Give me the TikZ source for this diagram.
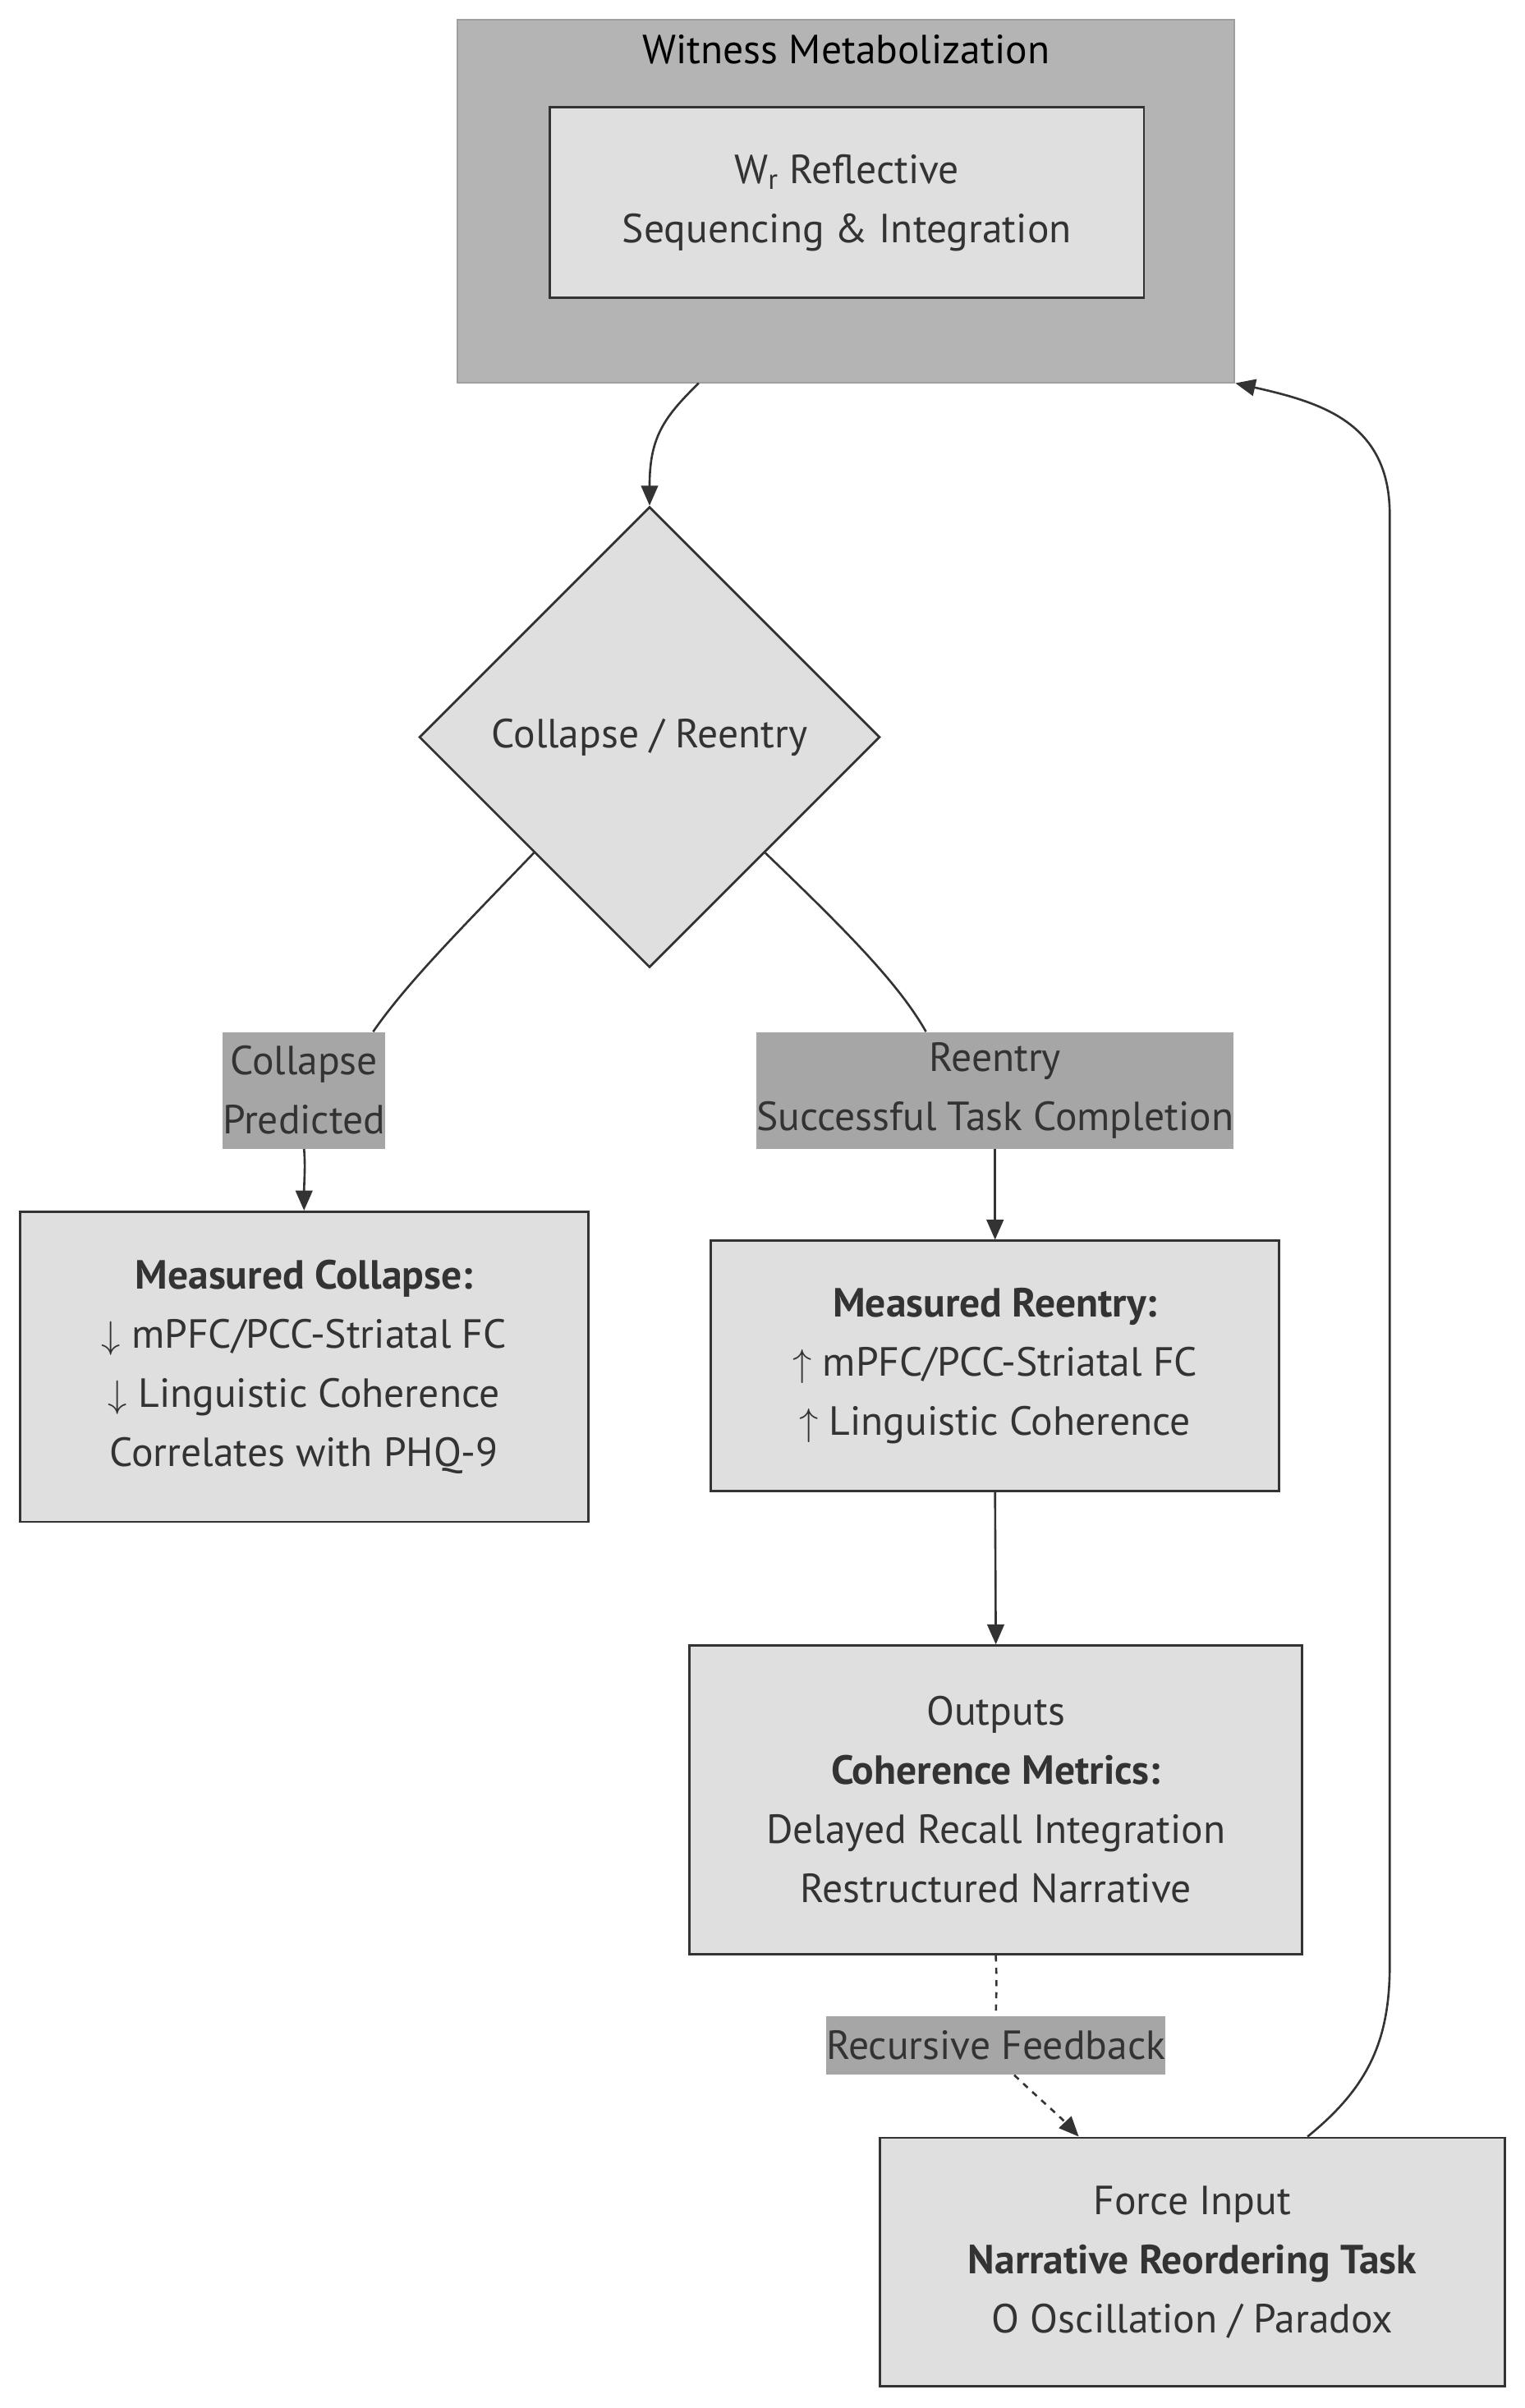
\documentclass[tikz,border=0pt]{standalone}
\usepackage{fontspec}
\setmainfont{PT Sans}
\usetikzlibrary{shapes.geometric,arrows.meta}
\definecolor{nodefill}{HTML}{DFDFDF}
\definecolor{clusterfill}{HTML}{B5B4B5}
\definecolor{labelfill}{HTML}{A6A6A6}
\definecolor{ink}{HTML}{333333}
\begin{document}
\begin{tikzpicture}[x=1pt,y=-1pt,
	    box/.style={draw=ink,line width=1.5pt,fill=nodefill,text=ink,align=center,inner sep=0pt,font=\fontsize{26.5}{38.5}\selectfont},
	    elabel/.style={fill=labelfill,text=ink,align=center,inner xsep=0pt,inner ysep=0pt,font=\fontsize{26.5}{38.5}\selectfont},
	    edge/.style={draw=ink,line width=1.4pt,-{Triangle[length=13pt,width=11pt]}},
	    link/.style={draw=ink,line width=1.4pt}]
	    \useasboundingbox (0,0) rectangle (993,1568);
	    \node[draw=gray!75,line width=1pt,fill=clusterfill,minimum width=506,minimum height=236,inner sep=0pt] (wit) at (551,131) {};
	    \node[font=\fontsize{26.5}{30}\selectfont] (witt) at (551,32) {Witness Metabolization};
	    \node[box,minimum width=387,minimum height=124] (wr) at (551.5,132) {W\textsubscript{r} Reflective\\Sequencing \& Integration};
	    \node[box,shape=diamond,minimum width=300,minimum height=300] (dia) at (423,480) {Collapse / Reentry};
	    \node[elabel,minimum height=76] (lc) at (198,710) {Collapse\\Predicted};
	    \node[elabel,minimum height=76] (lr) at (648,710) {Reentry\\Successful Task Completion};
	    \node[box,minimum width=370,minimum height=202] (mc) at (198,890) {\textbf{Measured Collapse:}\\$\downarrow$ mPFC/PCC-Striatal FC\\$\downarrow$ Linguistic Coherence\\Correlates with PHQ-9};
	    \node[box,minimum width=370,minimum height=163] (mr) at (648,889.5) {\textbf{Measured Reentry:}\\$\uparrow$ mPFC/PCC-Striatal FC\\$\uparrow$ Linguistic Coherence};
	    \node[box,minimum width=399,minimum height=201] (out) at (648.5,1172) {Outputs\\\textbf{Coherence Metrics:}\\Delayed Recall Integration\\Restructured Narrative};
	    \node[elabel,minimum height=38] (lf) at (648.5,1332) {Recursive Feedback};
	    \node[box,minimum width=407,minimum height=162] (fi) at (776.5,1473) {Force Input\\\textbf{Narrative Reordering Task}\\O Oscillation / Paradox};
	    \draw[edge] ([xshift=-96pt]wit.south) .. controls (432,272) and (423,285) .. (dia.north);
	    \draw[link] (dia.south west) .. controls (300,605) and (265,640) .. ([xshift=45pt]lc.north);
	    \draw[edge] (lc.south) .. controls (199,760) and (198,770) .. (mc.north);
	    \draw[link] (dia.south east) .. controls (550,605) and (585,640) .. ([xshift=-45pt]lr.north);
	    \draw[edge] (lr.south) .. controls (648,765) and (648,780) .. (mr.north);
	    \draw[edge] (mr.south) -- (out.north);
	    \draw[link,dash pattern=on 4pt off 4pt] (out.south) .. controls (649,1290) .. (lf.north);
	    \draw[edge,dash pattern=on 4pt off 4pt] ([xshift=12pt]lf.south) .. controls (675,1365) and (690,1378) .. ([xshift=-74pt]fi.north);
	    \draw[edge] ([xshift=75pt]fi.north) .. controls (890,1360) and (905,1330) .. (905,1280) -- (905,335) .. controls (905,275) and (860,262) .. (wit.south east);
	\end{tikzpicture}
\end{document}
